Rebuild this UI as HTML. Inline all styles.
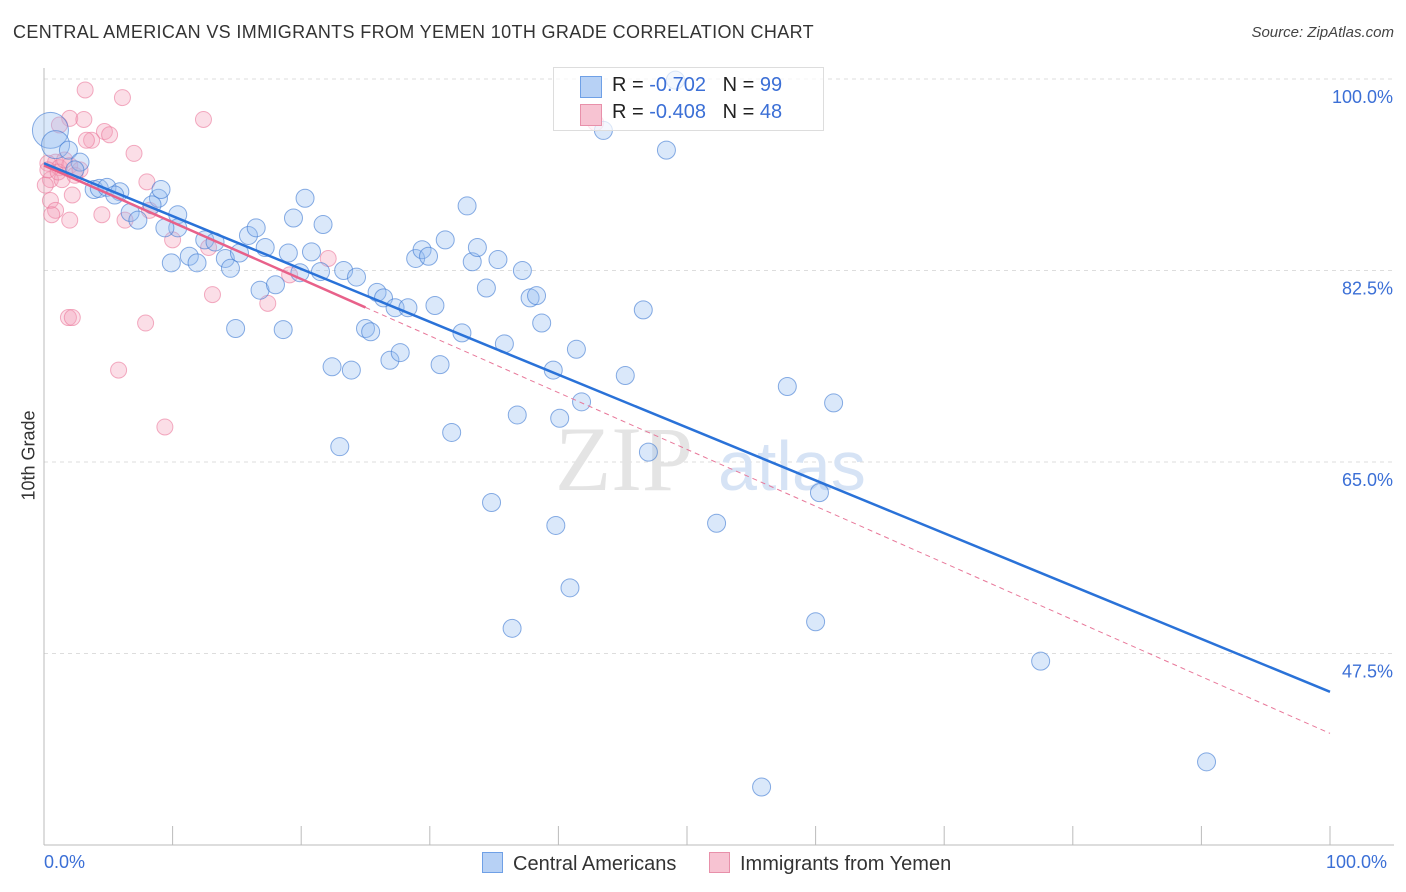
<!DOCTYPE html>
<html><head><meta charset="utf-8">
<style>
body{margin:0;background:#fff;font-family:"Liberation Sans",sans-serif;}
#wrap{position:relative;width:1406px;height:892px;overflow:hidden;}
.t{position:absolute;white-space:nowrap;}
</style></head><body>
<div id="wrap">
<div class="t" style="left:13px;top:22px;font-size:18px;letter-spacing:0.35px;color:#333;">CENTRAL AMERICAN VS IMMIGRANTS FROM YEMEN 10TH GRADE CORRELATION CHART</div>
<div class="t" style="right:12px;top:24px;font-size:15px;color:#444;font-style:italic;">Source: ZipAtlas.com</div>
<svg id="svg" width="1406" height="892" style="position:absolute;left:0;top:0"></svg>
</div>
<script>
const yTicks=[100,82.5,65,47.5];
const yTickLabels=["100.0%","82.5%","65.0%","47.5%"];
const blueX=[0.5,0.9,1.9,2.8,2.4,3.9,4.3,4.9,5.9,5.5,6.7,7.3,8.9,8.4,9.1,10.4,10.4,9.4,9.9,11.3,11.9,12.5,13.3,14.1,14.5,15.2,15.9,16.5,17.2,16.8,18.0,14.9,18.6,19.0,19.4,20.3,19.9,20.8,21.5,21.7,23.3,24.3,22.4,23.9,23.0,25.0,25.4,25.9,26.4,27.3,28.3,26.9,27.7,28.9,29.4,29.9,30.4,31.2,30.8,31.7,32.5,33.3,33.7,34.4,32.9,35.3,35.8,36.8,37.2,34.8,36.4,37.8,38.3,38.7,39.6,40.1,39.8,40.9,41.4,41.8,43.5,45.2,46.6,47.0,48.4,49.1,52.3,57.8,60.0,60.3,61.4,77.5,90.4,55.8];
const blueY=[95.3,94.0,93.5,92.4,91.7,89.9,90.0,90.1,89.7,89.4,87.8,87.1,89.1,88.5,89.9,87.6,86.4,86.4,83.2,83.8,83.2,85.3,85.1,83.6,82.7,84.1,85.7,86.4,84.6,80.7,81.2,77.2,77.1,84.1,87.3,89.1,82.3,84.2,82.4,86.7,82.5,81.9,73.7,73.4,66.4,77.2,76.9,80.5,80.0,79.1,79.1,74.3,75.0,83.6,84.4,83.8,79.3,85.3,73.9,67.7,76.8,83.3,84.6,80.9,88.4,83.5,75.8,69.3,82.5,61.3,49.8,80.0,80.2,77.7,73.4,69.0,59.2,53.5,75.3,70.5,95.3,72.9,78.9,65.9,93.5,99.9,59.4,71.9,50.4,62.2,70.4,46.8,37.6,35.3];
const pinkX=[3.2,6.1,12.4,2.0,3.1,1.2,4.7,5.1,3.7,3.3,7.0,0.9,0.3,1.2,2.0,0.5,0.1,1.4,2.2,0.5,0.9,0.6,2.0,4.5,6.3,8.0,8.2,10.0,12.8,13.1,17.4,19.1,22.1,1.9,2.2,7.9,5.8,9.4,0.3,1.1,1.6,2.4,2.8,42.9];
const pinkY=[99.0,98.3,96.3,96.4,96.3,95.8,95.2,94.9,94.4,94.4,93.2,92.4,92.3,91.9,92.1,90.8,90.3,90.8,89.4,88.9,88.0,87.6,87.1,87.6,87.1,90.6,88.0,85.3,84.6,80.3,79.5,82.1,83.6,78.2,78.2,77.7,73.4,68.2,91.7,91.5,92.6,91.2,91.7,96.0];
const blueLine=[0,92.3,100,44.0];
const pinkLine=[0,92.1,100,40.2];
const pinkSolidEnd=25;
const X=v=>44+v*12.86, Y=v=>79+(100-v)*191.5/17.5;
const svg=document.getElementById('svg');const NS='http://www.w3.org/2000/svg';
function mk(tag,attrs,parent){const e=document.createElementNS(NS,tag);for(const k in attrs)e.setAttribute(k,attrs[k]);(parent||svg).appendChild(e);return e;}
yTicks.forEach((t,i)=>{
 const g=mk('line',{x1:44,x2:1394,y1:Y(t),y2:Y(t),stroke:'#ddd','stroke-dasharray':'4,4'});
 
 
 const tx=mk('text',{x:1393,y:Y(t)+24,'text-anchor':'end','font-size':18,fill:'#3b6fd6','font-family':'Liberation Sans'});tx.textContent=yTickLabels[i];
 
 
});
mk('line',{x1:44,x2:44,y1:68,y2:845,stroke:'#bbb'});
mk('line',{x1:44,x2:1394,y1:845,y2:845,stroke:'#bbb'});
for(let i=1;i<=10;i++){const t=mk('line',{x1:X(i*10),x2:X(i*10),y1:826,y2:845,stroke:'#bbb'});}
const wm=mk('text',{x:555,y:490,'font-size':92,fill:'#e4e4e4','font-family':'Liberation Serif'});wm.textContent='ZIP';


const wm2=mk('text',{x:718,y:490,'font-size':70,fill:'#d6e3f5','font-family':'Liberation Sans'});wm2.textContent='atlas';


pinkX.forEach((x,i)=>{const c=mk('circle',{cx:X(x),cy:Y(pinkY[i]),r:8,fill:'rgba(244,160,185,0.35)',stroke:'rgba(235,120,155,0.6)','stroke-width':1});
 
 });
blueX.forEach((x,i)=>{const r=i==0?18:(i==1?14:9);const c=mk('circle',{cx:X(x),cy:Y(blueY[i]),r:r,fill:'rgba(150,190,240,0.35)',stroke:'rgba(60,120,210,0.6)','stroke-width':1});
 
 });
const pl=v=>pinkLine[1]+(pinkLine[3]-pinkLine[1])*v/100;
const pd=mk('line',{x1:X(pinkSolidEnd),y1:Y(pl(pinkSolidEnd)),x2:X(100),y2:Y(pl(100)),stroke:'#e8789a','stroke-width':1,'stroke-dasharray':'5,4'});


const ps=mk('line',{x1:X(0),y1:Y(pl(0)),x2:X(pinkSolidEnd),y2:Y(pl(pinkSolidEnd)),stroke:'#e8618a','stroke-width':2.5});


const bl=mk('line',{x1:X(blueLine[0]),y1:Y(blueLine[1]),x2:X(blueLine[2]),y2:Y(blueLine[3]),stroke:'#2a72d8','stroke-width':2.5});


</script>
<div class="t" style="left:44px;top:852px;font-size:18px;color:#3b6fd6;">0.0%</div>
<div class="t" style="left:1326px;top:852px;font-size:18px;color:#3b6fd6;">100.0%</div>
<div class="t" style="left:-16px;top:445px;font-size:18px;color:#333;transform:rotate(-90deg);">10th Grade</div>
<div style="position:absolute;left:553px;top:67px;width:269px;height:62px;border:1px solid #ddd;background:rgba(255,255,255,0.7);font-size:20px;">
 <div style="position:absolute;left:26px;top:8px;width:20px;height:20px;background:#b7d1f5;border:1px solid #6fa0e6;"></div>
 <div class="t" style="left:58px;top:6px;color:#222;">R = <span style="color:#3b6fd6">-0.702</span>&nbsp;&nbsp;&nbsp;N = <span style="color:#3b6fd6">99</span></div>
 <div style="position:absolute;left:26px;top:36px;width:20px;height:20px;background:#f7c3d2;border:1px solid #e890aa;"></div>
 <div class="t" style="left:58px;top:33px;color:#222;">R = <span style="color:#3b6fd6">-0.408</span>&nbsp;&nbsp;&nbsp;N = <span style="color:#3b6fd6">48</span></div>
</div>
<div style="position:absolute;left:482px;top:852px;font-size:20px;color:#333;">
 <span style="display:inline-block;width:19px;height:19px;background:#b7d1f5;border:1px solid #6fa0e6;vertical-align:-3px;margin-right:10px;"></span>Central Americans</div>
<div style="position:absolute;left:709px;top:852px;font-size:20px;color:#333;">
 <span style="display:inline-block;width:19px;height:19px;background:#f7c3d2;border:1px solid #e890aa;vertical-align:-3px;margin-right:10px;"></span>Immigrants from Yemen</div>
</body></html>
